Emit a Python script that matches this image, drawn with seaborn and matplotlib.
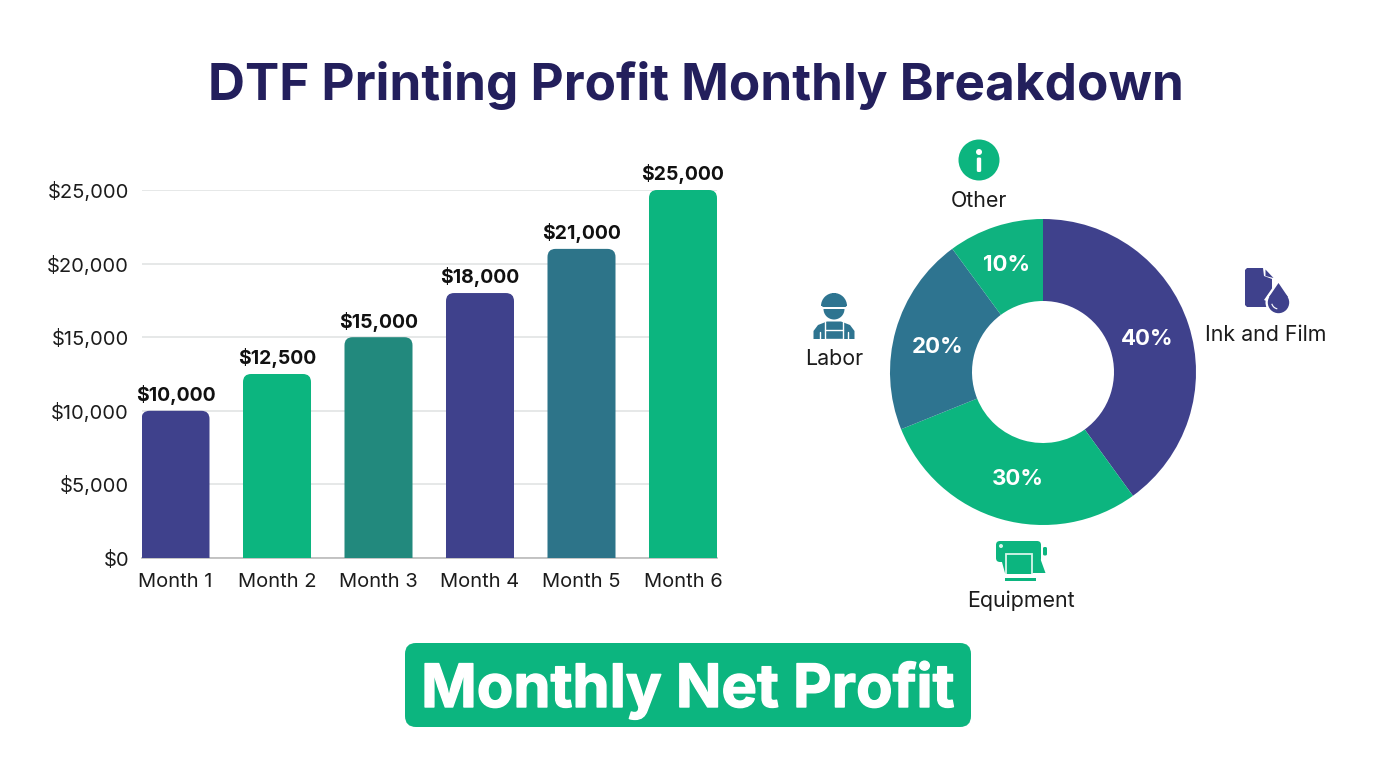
import seaborn as sns
import matplotlib.pyplot as plt
import matplotlib.patheffects as pe
import pandas as pd
from matplotlib.patches import Circle, FancyBboxPatch, Polygon, Rectangle, Wedge

# bar chart data
months = ['Month 1', 'Month 2', 'Month 3', 'Month 4', 'Month 5', 'Month 6']
profit = [10000, 12500, 15000, 18000, 21000, 25000]
bar_colors = ['#3F418C', '#0CB57F', '#22897D', '#3F418C', '#2D7489', '#0CB57F']
y_ticks = [0, 5000, 10000, 15000, 20000, 25000]

# donut data, the arcs as drawn in the picture are a bit off the printed labels
cost_names = ['Ink and Film', 'Equipment', 'Labor', 'Other']
cost_labels = [40, 30, 20, 10]
cost_arcs = [40, 28.9, 21, 10.1]
cost_colors = ['#3F418C', '#0CB57F', '#2E7490', '#0FB27F']

title_text = 'DTF Printing Profit Monthly Breakdown'
badge_text = 'Monthly Net Profit'

NAVY = '#231F5C'
GREEN = '#0CB57F'
W, H = 1376, 768

sns.set_theme(style='white')
plt.rcParams['font.family'] = ['Inter', 'DejaVu Sans']

fig = plt.figure(figsize=(W / 100, H / 100), dpi=100, facecolor='white')

# bar chart
ax = fig.add_axes([141.5 / W, 1 - 558 / H, 575.5 / W, 368 / H])
df = pd.DataFrame({'month': months, 'profit': profit})
sns.barplot(df, x='month', y='profit', hue='month', palette=bar_colors, legend=False,
            width=0.67, ax=ax, zorder=3)
ax.set_xlim(-0.335, 5.335)
ax.set_ylim(0, 25000)
ax.set_xlabel('')
ax.set_ylabel('')
ax.set_yticks(y_ticks)
ax.set_yticklabels([f'${v:,}' for v in y_ticks])
ax.tick_params(axis='both', length=0, labelsize=14.5, labelcolor='#1c1c1c')
ax.tick_params(axis='y', pad=9)
ax.tick_params(axis='x', pad=11)
ax.grid(axis='y', color='#DFE2E2', lw=1.1, zorder=0)
ax.set_axisbelow(True)
sns.despine(ax=ax, left=True, right=True, top=True)
ax.spines['bottom'].set_color('#BDBDBD')

# rounded tops, the bottom corners get clipped by the axes
for bar, val, col in zip(list(ax.patches), profit, bar_colors):
    x0, w = bar.get_x(), bar.get_width()
    bar.set_visible(False)
    ax.add_patch(FancyBboxPatch((x0, -2000), w, val + 2000,
                                boxstyle='round,pad=0,rounding_size=0.08',
                                mutation_aspect=6888, fc=col, ec='none', zorder=3))
    ax.annotate(f'${val:,}', (x0 + w / 2, val), xytext=(0, 4), textcoords='offset points',
                ha='center', va='bottom', fontsize=14, fontweight='bold', color='#111111',
                annotation_clip=False, zorder=4)

# donut
ax2 = fig.add_axes([(1043 - 153) / W, 1 - (372 + 153) / H, 306 / W, 306 / H])
wedges, _ = ax2.pie(cost_arcs, colors=cost_colors, startangle=90, counterclock=False, radius=1,
                    wedgeprops=dict(width=82 / 153, linewidth=0))
ax2.set_xlim(-1, 1)
ax2.set_ylim(-1, 1)
label_pos = [(1147, 339), (1018, 479), (938, 347), (1006, 265)]
for share, (px, py) in zip(cost_labels, label_pos):
    fig.text(px / W, 1 - py / H, f'{share}%', color='white', fontsize=16, fontweight='bold',
             ha='center', va='center')

# overlay in pixel coords for title, badge, icons
ov = fig.add_axes([0, 0, 1, 1], zorder=5)
ov.set_xlim(0, W)
ov.set_ylim(H, 0)
ov.axis('off')
ov.patch.set_alpha(0)

ov.text(696, 100, title_text, color=NAVY, fontsize=36.9, fontweight='bold', ha='center', va='baseline')

ov.add_patch(FancyBboxPatch((405, 643), 566, 84, boxstyle='round,pad=0,rounding_size=11',
                            fc=GREEN, ec='none'))
ov.text(688, 707, badge_text, color='white', fontsize=43, fontweight='bold', ha='center', va='baseline',
        path_effects=[pe.withStroke(linewidth=1.0, foreground='white')])

name_pos = [(1266, 335), (1021, 601), (834, 359), (979, 201)]
for name, (px, py) in zip(cost_names, name_pos):
    ov.text(px, py, name, color='#1c1c1c', fontsize=15.4, ha='center', va='center')

# other icon
ov.add_patch(Circle((979, 160), 20.5, fc=GREEN, ec='none'))
ov.add_patch(Circle((979, 152), 3, fc='white', ec='none'))
ov.add_patch(FancyBboxPatch((976.8, 157.5), 4.4, 14.5, boxstyle='round,pad=0,rounding_size=1.5',
                            fc='white', ec='none'))

# labor icon
TEAL = '#2E7490'
ov.add_patch(Wedge((834, 306), 13, 180, 360, fc=TEAL, ec='none'))
ov.add_patch(Rectangle((832, 293), 4, 5, fc=TEAL, ec='none'))
ov.add_patch(FancyBboxPatch((822, 304), 24.5, 3, boxstyle='round,pad=0,rounding_size=1.4',
                            fc=TEAL, ec='none'))
ov.add_patch(Wedge((834, 309), 10.5, 0, 180, fc=TEAL, ec='none'))
ov.add_patch(Polygon([(813.5, 339), (813.5, 331), (818, 325), (827, 321.5), (841, 321.5), (850, 325),
                      (854.5, 331), (854.5, 339)], fc=TEAL, ec='none'))
ov.plot([825, 825, 843, 843], [322, 338.5, 338.5, 322], color='white', lw=1.0)
ov.plot([825, 843], [330, 330], color='white', lw=1.0)
ov.plot([820, 820], [332, 339], color='white', lw=1.0)
ov.plot([848, 848], [332, 339], color='white', lw=1.0)

# ink and film icon
INK = '#3F418C'
ov.add_patch(Polygon([(1247, 268), (1263, 268), (1264, 276), (1272, 279), (1272, 307), (1247, 307),
                      (1245, 305), (1245, 270)], fc=INK, ec='none'))
ov.add_patch(Polygon([(1265.5, 269.5), (1273.5, 278), (1265.5, 276)], fc=INK, ec='none'))
ov.add_patch(Polygon([(1278.5, 279), (1264, 300), (1278, 306)], fc='white', ec='none'))
ov.add_patch(Circle((1278.5, 302.5), 13, fc='white', ec='none'))
ov.add_patch(Circle((1278.5, 302.5), 10.7, fc=INK, ec='none'))
ov.add_patch(Polygon([(1278.5, 283), (1269, 297), (1288, 297)], fc=INK, ec='none'))
ov.add_patch(Wedge((1278.5, 302), 7.5, 100, 165, width=1.2, fc='white', ec='none'))

# equipment icon
ov.add_patch(FancyBboxPatch((996, 541), 45, 21, boxstyle='round,pad=0,rounding_size=4',
                            fc=GREEN, ec='none'))
ov.add_patch(Polygon([(1000, 555), (1039, 555), (1045.5, 573), (1005, 573)], fc=GREEN, ec='none'))
ov.add_patch(FancyBboxPatch((1043, 547), 4, 8.5, boxstyle='round,pad=0,rounding_size=1.5',
                            fc=GREEN, ec='none'))
ov.add_patch(Circle((1001, 546), 2, fc='#D8F5EA', ec='none'))
ov.add_patch(Rectangle((1006, 553.5), 25.5, 21, fc=GREEN, ec='#D8F5EA', lw=1.3))
ov.add_patch(Rectangle((1004, 573.5), 42, 3.5, fc='white', ec='none'))
ov.add_patch(Rectangle((1005, 577.5), 31, 3, fc=GREEN, ec='none'))

fig.savefig('out.png', dpi=100)
